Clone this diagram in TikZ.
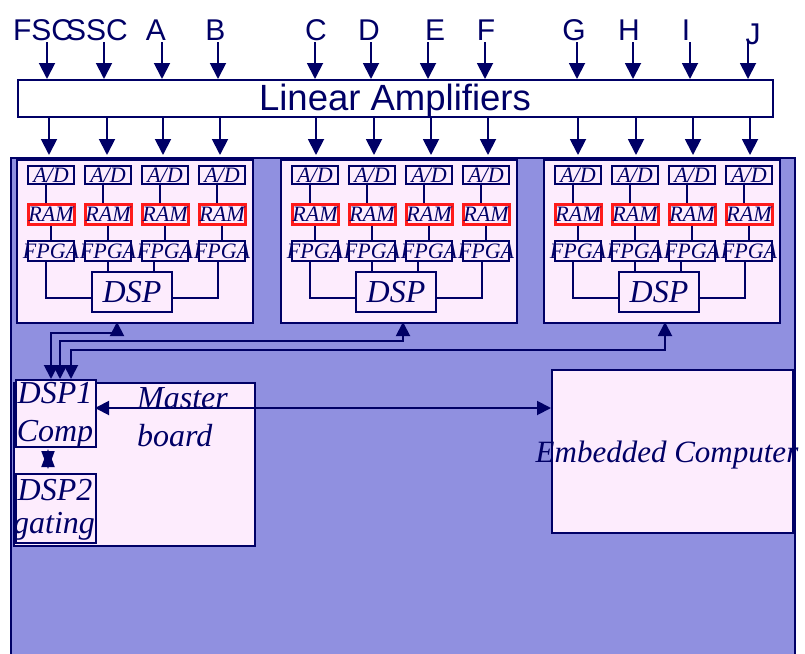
\documentclass[tikz,border=0pt]{standalone}
\usepackage{fontspec}
\setmainfont{Liberation Serif}
\newfontfamily\sansf{Liberation Sans}
\usetikzlibrary{arrows.meta}
\definecolor{navy}{HTML}{000066}
\definecolor{bgblue}{HTML}{9090E0}
\definecolor{pinkfill}{HTML}{FDECFD}
\definecolor{ramred}{HTML}{FF1A1A}
\begin{document}
\begin{tikzpicture}[x=1pt,y=-1pt,
  conn/.style={draw=navy, line width=1.9pt},
  thinconn/.style={draw=navy, line width=1.6pt},
  arr/.style={conn, -{Triangle[width=16pt,length=16pt]}},
  darr/.style={conn, {Triangle[width=14pt,length=14pt]}-{Triangle[width=14pt,length=14pt]}},
  xarr/.style={conn, {Triangle[width=13pt,length=18pt]}-{Triangle[width=13pt,length=18pt]}},
  panel/.style={draw=navy, fill=pinkfill, line width=1.9pt, inner sep=0pt, anchor=north west},
  bigbox/.style={draw=navy, fill=pinkfill, line width=1.9pt, inner sep=0pt},
  smallbox/.style={draw=navy, fill=pinkfill, line width=1.6pt, inner sep=0pt, text=navy,
     font=\itshape\fontsize{22}{22}\selectfont, minimum width=46pt},
  ramstyle/.style={draw=ramred, fill=pinkfill, line width=3pt, inner sep=0pt, text=navy,
     font=\itshape\fontsize{22}{22}\selectfont, minimum width=46pt, minimum height=20pt},
  dspbox/.style={draw=navy, fill=pinkfill, line width=1.6pt, inner sep=0pt, text=navy,
     font=\itshape\fontsize{32}{32}\selectfont, minimum width=80pt, minimum height=40pt},
  toplabel/.style={text=navy, font=\sansf\fontsize{30}{30}\selectfont, anchor=base, inner sep=0pt},
  itlabel/.style={text=navy, font=\itshape\fontsize{32}{32}\selectfont, inner sep=0pt},
]
\useasboundingbox (0,0) rectangle (805,653);

% background
\fill[bgblue] (11,158) rectangle (795,660);
\draw[navy, line width=1.9pt] (11,660) -- (11,158) -- (795,158) -- (795,660);

% linear amplifiers
\node[draw=navy, fill=white, line width=1.9pt, inner sep=0pt, minimum width=755pt, minimum height=37pt, anchor=north west] (amp) at (17,79) {};
\node[text=navy, font=\sansf\fontsize{36.5}{36.5}\selectfont, anchor=base, inner sep=0pt] (amptext) at (395,110) {Linear Amplifiers};

% top labels
\node[toplabel] (lFSC) at (43,40) {FSC};
\node[toplabel] (lSSC) at (97,40) {SSC};
\node[toplabel] (lA) at (156,40) {A};
\node[toplabel] (lB) at (215.5,40) {B};
\node[toplabel] (lC) at (316,40) {C};
\node[toplabel] (lD) at (369,40) {D};
\node[toplabel] (lE) at (435,40) {E};
\node[toplabel] (lF) at (486,40) {F};
\node[toplabel] (lG) at (574,40) {G};
\node[toplabel] (lH) at (629,40) {H};
\node[toplabel] (lI) at (686,40) {I};
\node[toplabel] (lJ) at (753,44) {J};

% arrows into amplifiers
\foreach \x [count=\k] in {47,104,162,218,315,371,428,485,577,633,690,748} {
  \coordinate (in\k) at (\x,42);
  \draw[arr] (in\k) -- (in\k |- amp.north);
}
% arrows out of amplifiers
\foreach \x [count=\k] in {49,107,163,220,316,374,431,488,578,636,693,750} {
  \coordinate (out\k) at (\x,155);
  \draw[arr] (out\k |- amp.south) -- (out\k);
}

% panels
\foreach \px [count=\i] in {16,280,543} {
  \node[panel, minimum width=236pt, minimum height=163pt] (p\i) at (\px,159) {};
  \foreach \dx [count=\j] in {35,92,149,206} {
    \node[smallbox, minimum height=18pt] (ad\i\j) at ({\px+\dx},175) {A/D};
    \node[ramstyle] (ram\i\j) at ({\px+\dx},214) {RAM};
    \node[smallbox, minimum height=20pt] (fp\i\j) at ({\px+\dx},251) {\makebox[0pt]{FPGA}};
    \draw[thinconn] ([xshift=-5pt]ad\i\j.south) -- ([xshift=-5pt]ad\i\j.south |- ram\i\j.north);
    \draw[thinconn] (ram\i\j.south) -- (fp\i\j.north);
  }
  \node[dspbox] (dsp\i) at ({\px+116},292) {DSP};
  \draw[thinconn] ([xshift=-5pt]fp\i1.south) |- ([yshift=-6pt]dsp\i.west);
  \draw[thinconn] (fp\i2.south) -- (fp\i2.south |- dsp\i.north);
  \draw[thinconn] ([xshift=-11pt]fp\i3.south) -- ([xshift=-11pt]fp\i3.south |- dsp\i.north);
  \draw[thinconn] ([xshift=-4pt]fp\i4.south) |- ([yshift=-6pt]dsp\i.east);
}

% master board
\node[bigbox, minimum width=241pt, minimum height=163pt, anchor=north west] (master) at (13,382) {};
\node[itlabel, anchor=base west] (mtext1) at (137,408) {Master};
\node[itlabel, anchor=base west] (mtext2) at (137,446) {board};
\node[bigbox, line width=1.6pt, minimum width=80pt, minimum height=67pt, anchor=north west] (dspone) at (15,379) {};
\node[itlabel, anchor=base] (d1a) at (55,403) {DSP1};
\node[itlabel, anchor=base] (d1b) at (55,441) {Comp};
\node[bigbox, line width=1.6pt, minimum width=80pt, minimum height=69pt, anchor=north west] (dsptwo) at (15,473) {};
\node[itlabel, anchor=base] (d2a) at (55,500) {DSP2};
\node[itlabel, anchor=base] (d2b) at (54,533) {gating};

% embedded computer
\node[bigbox, minimum width=241pt, minimum height=163pt, anchor=north west] (emb) at (551,369) {};
\node[itlabel, font=\itshape\fontsize{31}{31}\selectfont, anchor=base] (embtext) at (667,462) {Embedded Computer};

% DSP to DSP1 links
\coordinate (s1) at (117,322);
\coordinate (s2) at (403,322);
\coordinate (s3) at (665,322);
\coordinate (e1) at (51,379);
\coordinate (e2) at (60,379);
\coordinate (e3) at (71,379);
\draw[darr] (s1) -- (117,333) -- (51,333) -- (e1);
\draw[darr] (s2) -- (403,341) -- (60,341) -- (e2);
\draw[darr] (s3) -- (665,350) -- (71,350) -- (e3);

% DSP1 <-> embedded
\coordinate (c1) at (95,408);
\draw[darr] (c1) -- (c1 -| emb.west);

% DSP1 <-> DSP2
\coordinate (x1) at (48,449);
\coordinate (x2) at (48,469);
\draw[xarr] (x1) -- (x2);
\end{tikzpicture}
\end{document}
